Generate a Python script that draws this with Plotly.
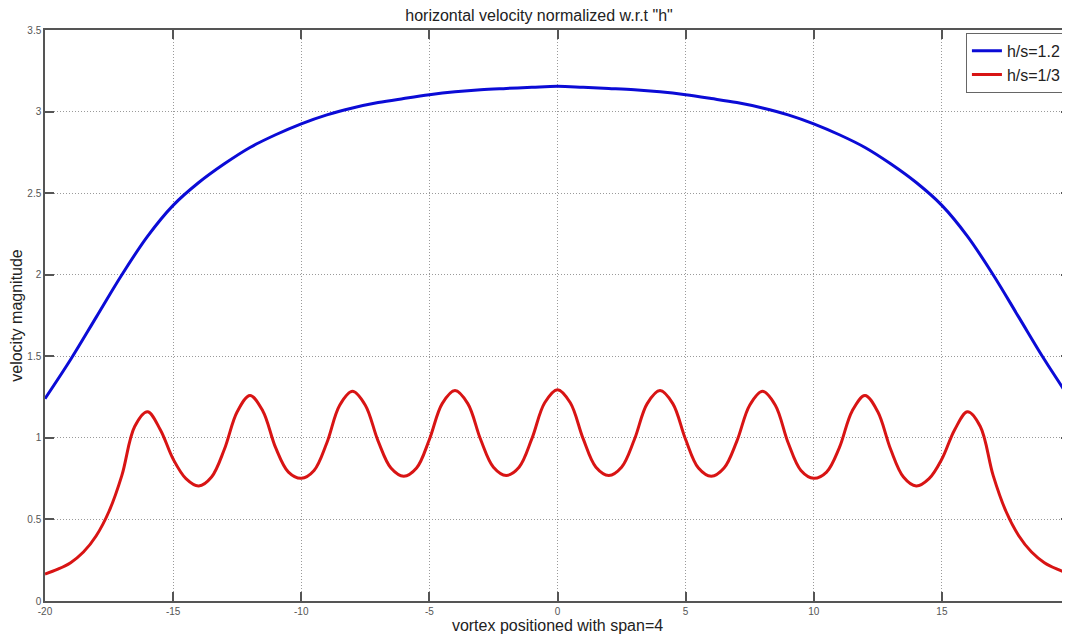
import plotly.graph_objects as go

x_blue = [-20, -19, -18, -17, -16, -15, -14, -13, -12, -11, -10, -9, -8, -7, -6, -5, -4, -3, -2, -1,
          0, 1, 2, 3, 4, 5, 6, 7, 8, 9, 10, 11, 12, 13, 14, 15, 16, 17, 18, 19, 20]
y_blue = [1.24, 1.48, 1.74, 2.00, 2.235, 2.425, 2.565, 2.68, 2.78, 2.858, 2.925, 2.98, 3.022, 3.055, 3.08, 3.103, 3.121, 3.134, 3.142, 3.149,
          3.155, 3.149, 3.142, 3.134, 3.121, 3.103, 3.08, 3.055, 3.022, 2.98, 2.925, 2.858, 2.78, 2.68, 2.565, 2.425, 2.235, 2.00, 1.74, 1.48, 1.24]

x_red = [-20, -19.5, -19, -18.5, -18, -17.5, -17, -16.5, -16, -15.5, -15, -14.5, -14, -13.5, -13, -12.5, -12,
         -11.5, -11, -10.5, -10, -9.5, -9, -8.5, -8, -7.5, -7, -6.5, -6, -5.5, -5, -4.5, -4,
         -3.5, -3, -2.5, -2, -1.5, -1, -0.5, 0,
         0.5, 1, 1.5, 2, 2.5, 3, 3.5, 4, 4.5, 5, 5.5, 6, 6.5, 7, 7.5, 8,
         8.5, 9, 9.5, 10, 10.5, 11, 11.5, 12, 12.5, 13, 13.5, 14, 14.5, 15, 15.5, 16,
         16.5, 17, 17.5, 18, 18.5, 19, 19.5, 20]
y_red = [0.165, 0.195, 0.235, 0.30, 0.40, 0.55, 0.77, 1.07, 1.16, 1.05, 0.87, 0.75, 0.705, 0.76, 0.93, 1.16, 1.26,
         1.165, 0.94, 0.79, 0.752, 0.80, 0.97, 1.20, 1.285, 1.20, 0.98, 0.815, 0.765, 0.815, 0.99, 1.21, 1.29,
         1.21, 0.99, 0.82, 0.77, 0.82, 0.995, 1.215, 1.295,
         1.215, 0.995, 0.82, 0.77, 0.82, 0.99, 1.21, 1.29, 1.21, 0.99, 0.815, 0.765, 0.815, 0.98, 1.20, 1.285,
         1.20, 0.97, 0.80, 0.752, 0.79, 0.94, 1.165, 1.26, 1.16, 0.93, 0.76, 0.705, 0.75, 0.87, 1.05, 1.16,
         1.07, 0.77, 0.55, 0.40, 0.30, 0.235, 0.195, 0.165]

x_ticks = [-20, -15, -10, -5, 0, 5, 10, 15, 20]
y_ticks = [0, 0.5, 1, 1.5, 2, 2.5, 3, 3.5]
y_tick_text = ["0", "0.5", "1", "1.5", "2", "2.5", "3", "3.5"]

FONT = "Liberation Sans, Arial, sans-serif"

fig = go.Figure()
fig.add_trace(go.Scatter(x=x_blue, y=y_blue, mode="lines", name="h/s=1.2",
                         line=dict(color="#0b0bd6", width=3, shape="spline", smoothing=1.0)))
fig.add_trace(go.Scatter(x=x_red, y=y_red, mode="lines", name="h/s=1/3",
                         line=dict(color="#d81414", width=3, shape="spline", smoothing=1.0)))

axis_common = dict(
    showgrid=True, gridcolor="#9a9a9a", griddash="1px,2px", gridwidth=1,
    showline=True, linecolor="#555555", linewidth=1.5, mirror="ticks",
    ticks="inside", ticklen=9, tickcolor="#555555", tickwidth=1.5,
    zeroline=False, automargin=False,
    tickfont=dict(family=FONT, size=10, color="#555555"),
)

# The page body has an 8px margin, so the figure is sized 8px smaller and shifted.
fig.update_layout(
    width=1062, height=628,
    margin=dict(l=37, r=0, t=22, b=35),
    paper_bgcolor="white", plot_bgcolor="white",
    title=dict(text='horizontal velocity normalized w.r.t "h"', x=0.5, xanchor="center",
               y=1 - 7 / 628, yanchor="middle",
               font=dict(family=FONT, size=16, color="#222222")),
    xaxis=dict(range=[-20, 20], tickvals=x_ticks, ticktext=[str(v) for v in x_ticks],
               title=dict(text="vortex positioned with span=4", standoff=0,
                          font=dict(family=FONT, size=16, color="#222222")),
               **axis_common),
    yaxis=dict(range=[0, 3.5], tickvals=y_ticks, ticktext=y_tick_text,
               title=dict(text="velocity magnitude", standoff=4,
                          font=dict(family=FONT, size=16, color="#222222")),
               **axis_common),
    legend=dict(x=0.997, xanchor="right", y=0.995, yanchor="top",
                bgcolor="white", bordercolor="#666666", borderwidth=1,
                font=dict(family=FONT, size=16, color="#222222"),
                tracegroupgap=0, itemwidth=30),
    showlegend=True,
)

fig.write_html("out.html")
